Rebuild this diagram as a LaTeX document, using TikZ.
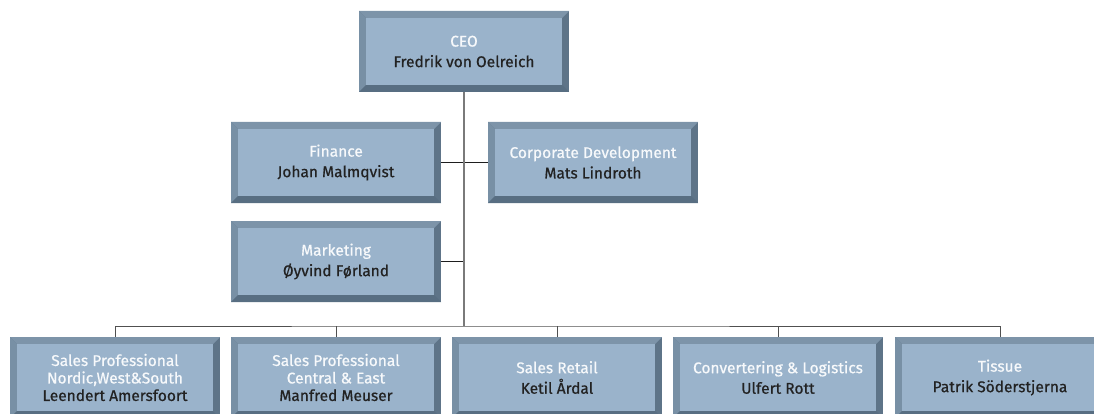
\documentclass[tikz,border=0pt]{standalone}
\usepackage{fontspec}
\setmainfont{Fira Sans}[RawFeature={embolden=0.6}]
\definecolor{face}{HTML}{9AB3CB}
\definecolor{bvtop}{HTML}{7D94A9}
\definecolor{bvleft}{HTML}{7890A5}
\definecolor{bvright}{HTML}{5E7488}
\definecolor{bvbot}{HTML}{586E82}
\definecolor{toptext}{HTML}{F7F9FB}
\definecolor{nametext}{HTML}{222222}
\definecolor{mainline}{HTML}{7A7A7A}
\definecolor{busline}{HTML}{505050}
\definecolor{sideline}{HTML}{1E1E1E}
\tikzset{
  orgbox/.style={minimum width=210pt, minimum height=81pt, inner sep=0pt, align=center,
    fill=bvright, text=nametext, font=\fontsize{15.5}{20.5}\selectfont,
    path picture={
      \fill[bvtop] (path picture bounding box.north west) -- (path picture bounding box.north east)
        -- ([shift={(-7pt,-7pt)}]path picture bounding box.north east)
        -- ([shift={(7pt,-7pt)}]path picture bounding box.north west) -- cycle;
      \fill[bvleft] (path picture bounding box.north west) -- (path picture bounding box.south west)
        -- ([shift={(7pt,7pt)}]path picture bounding box.south west)
        -- ([shift={(7pt,-7pt)}]path picture bounding box.north west) -- cycle;
      \fill[bvbot] (path picture bounding box.south west) -- (path picture bounding box.south east)
        -- ([shift={(-7pt,7pt)}]path picture bounding box.south east)
        -- ([shift={(7pt,7pt)}]path picture bounding box.south west) -- cycle;
      \fill[face] ([shift={(7pt,-7pt)}]path picture bounding box.north west)
        rectangle ([shift={(-7pt,7pt)}]path picture bounding box.south east);
    }},
  threeline/.style={font=\fontsize{15.5}{17.5}\selectfont},
  mainconn/.style={draw=mainline, line width=1.1pt},
  busconn/.style={draw=busline, line width=1pt},
  sideconn/.style={draw=sideline, line width=0.9pt}
}
\newcommand{\hd}[1]{\textcolor{toptext}{#1}}
\begin{document}
\begin{tikzpicture}[x=1pt,y=-1pt]
\useasboundingbox (0,0) rectangle (1094,414);
\clip (0,0) rectangle (1094,414);
\node[orgbox] (ceo) at (464,51.5) {\hd{CEO}\\Fredrik von Oelreich};
\node[orgbox] (fin) at (336,162.5) {\hd{Finance}\\Johan Malmqvist};
\node[orgbox] (cd) at (593,162.5) {\hd{Corporate Development}\\Mats Lindroth};
\node[orgbox] (mkt) at (336,261.5) {\hd{Marketing}\\Øyvind Førland};
\node[orgbox,threeline] (b1) at (115,377.5) {\hd{Sales Professional}\\\hd{Nordic,West\&South}\\Leendert Amersfoort};
\node[orgbox,threeline] (b2) at (336,377.5) {\hd{Sales Professional}\\\hd{Central \& East}\\Manfred Meuser};
\node[orgbox] (b3) at (557,377.5) {\hd{Sales Retail}\\Ketil Årdal};
\node[orgbox] (b4) at (778,377.5) {\hd{Convertering \& Logistics}\\Ulfert Rott};
\node[orgbox] (b5) at (1000,377.5) {\hd{Tissue}\\Patrik Söderstjerna};
\coordinate (bus) at (464,326);
\draw[busconn] (b1.north) |- (bus) -| (b5.north);
\draw[busconn] (b2.north) -- (b2.north |- bus);
\draw[busconn] (b3.north) -- (b3.north |- bus);
\draw[busconn] (b4.north) -- (b4.north |- bus);
\draw[sideconn] (fin.east) -- (cd.west);
\draw[sideconn] (mkt.east) -- (mkt.east -| ceo.south);
\draw[mainconn] (ceo.south) -- (bus);
\end{tikzpicture}
\end{document}
